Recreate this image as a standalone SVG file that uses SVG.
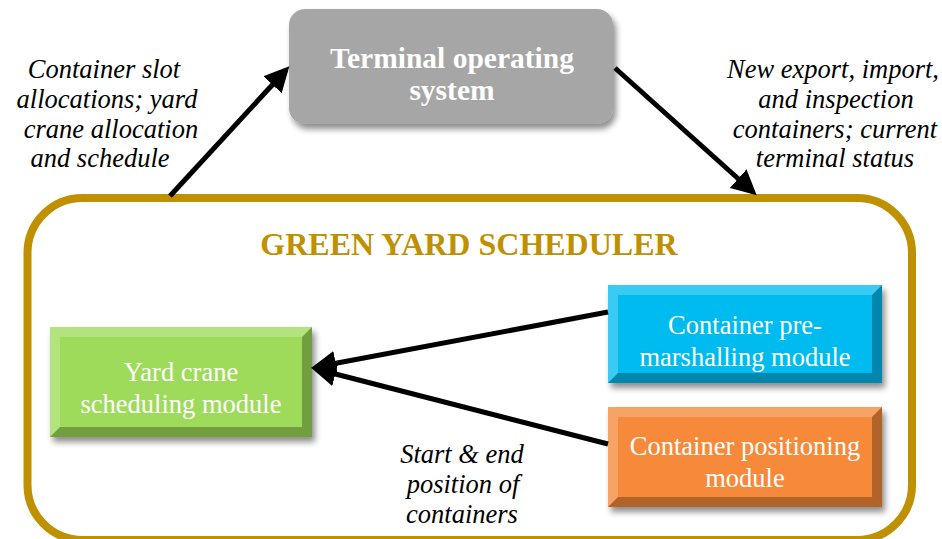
<svg xmlns="http://www.w3.org/2000/svg" width="942" height="539" viewBox="0 0 942 539">
<style>
.lbl{font-family:"Liberation Serif","Times New Roman",serif;font-style:italic;font-size:26.5px;fill:#000;text-anchor:middle}
.mod{font-family:"Liberation Serif","Times New Roman",serif;font-size:26.5px;fill:#fff;text-anchor:middle}
.conn{stroke:#000;stroke-width:5;fill:none;marker-end:url(#ah)}
.hl{fill:#fff;opacity:0.22}
.dk{fill:#000;opacity:0.28}
</style>
<defs>
<marker id="ah" markerWidth="5" markerHeight="5" refX="4" refY="2.5" orient="auto" markerUnits="strokeWidth">
<path d="M0,0 L5,2.5 L0,5 Z" fill="#000"/>
</marker>
<filter id="sh" x="-10%" y="-10%" width="130%" height="140%">
<feGaussianBlur in="SourceAlpha" stdDeviation="3"/>
<feOffset dx="3" dy="5" result="b"/>
<feComponentTransfer><feFuncA type="linear" slope="0.45"/></feComponentTransfer>
<feMerge><feMergeNode/><feMergeNode in="SourceGraphic"/></feMerge>
</filter>
</defs>

<g id="yard-scheduler">
<rect x="27.5" y="198" width="884.5" height="342" rx="55" fill="#fff" stroke="#bf9000" stroke-width="8"/>
<text x="469" y="255" font-family="'Liberation Serif','Times New Roman',serif" font-weight="bold" font-size="32" fill="#bf9000" text-anchor="middle">GREEN YARD SCHEDULER</text>
</g>

<g id="terminal">
<rect x="289" y="9" width="324" height="115" rx="16" fill="#a6a6a6" filter="url(#sh)"/>
<text x="452" y="68" font-family="'Liberation Serif','Times New Roman',serif" font-weight="bold" font-size="29.5" fill="#fff" text-anchor="middle">Terminal operating</text>
<text x="452" y="100" font-family="'Liberation Serif','Times New Roman',serif" font-weight="bold" font-size="29.5" fill="#fff" text-anchor="middle">system</text>
</g>

<g id="yard-crane">
<g filter="url(#sh)">
<rect x="50" y="327" width="262" height="110" fill="#9edb5a"/>
<polygon class="hl" points="50,327 312,327 302,337 60,337"/>
<polygon class="hl" points="50,327 60,337 60,427 50,437" opacity="0.1"/>
<polygon class="dk" points="312,327 312,437 302,427 302,337"/>
<polygon class="dk" points="50,437 312,437 302,427 60,427" opacity="0.15"/>
</g>
<text class="mod" x="181" y="381">Yard crane</text>
<text class="mod" x="181" y="413">scheduling module</text>
</g>

<g id="premarshalling">
<g filter="url(#sh)">
<rect x="608" y="285" width="274" height="98" fill="#05bbf0"/>
<polygon class="hl" points="608,285 882,285 872,295 618,295"/>
<polygon class="hl" points="608,285 618,295 618,373 608,383" opacity="0.1"/>
<polygon class="dk" points="882,285 882,383 872,373 872,295"/>
<polygon class="dk" points="608,383 882,383 872,373 618,373" opacity="0.15"/>
</g>
<text class="mod" x="745" y="334">Container pre-</text>
<text class="mod" x="745" y="366">marshalling module</text>
</g>

<g id="positioning">
<g filter="url(#sh)">
<rect x="608" y="407" width="274" height="100" fill="#f7893b"/>
<polygon class="hl" points="608,407 882,407 872,417 618,417"/>
<polygon class="hl" points="608,407 618,417 618,497 608,507" opacity="0.1"/>
<polygon class="dk" points="882,407 882,507 872,497 872,417"/>
<polygon class="dk" points="608,507 882,507 872,497 618,497" opacity="0.15"/>
</g>
<text class="mod" x="745" y="455">Container positioning</text>
<text class="mod" x="745" y="487">module</text>
</g>

<g id="connectors">
<line class="conn" x1="170" y1="196" x2="286" y2="70"/>
<line class="conn" x1="615" y1="68" x2="753" y2="192"/>
<line class="conn" x1="608" y1="312" x2="316" y2="367"/>
<line class="conn" x1="608" y1="444" x2="316" y2="369"/>
</g>

<g id="labels">
<text class="lbl" x="104" y="78">Container slot</text>
<text class="lbl" x="107" y="108">allocations; yard</text>
<text class="lbl" x="111" y="138">crane allocation</text>
<text class="lbl" x="100" y="167">and schedule</text>
<text class="lbl" x="833" y="78">New export, import,</text>
<text class="lbl" x="836" y="108">and inspection</text>
<text class="lbl" x="835" y="138">containers; current</text>
<text class="lbl" x="835" y="167">terminal status</text>
<text class="lbl" x="462" y="463">Start &amp; end</text>
<text class="lbl" x="463" y="493">position of</text>
<text class="lbl" x="462" y="523">containers</text>
</g>
</svg>
